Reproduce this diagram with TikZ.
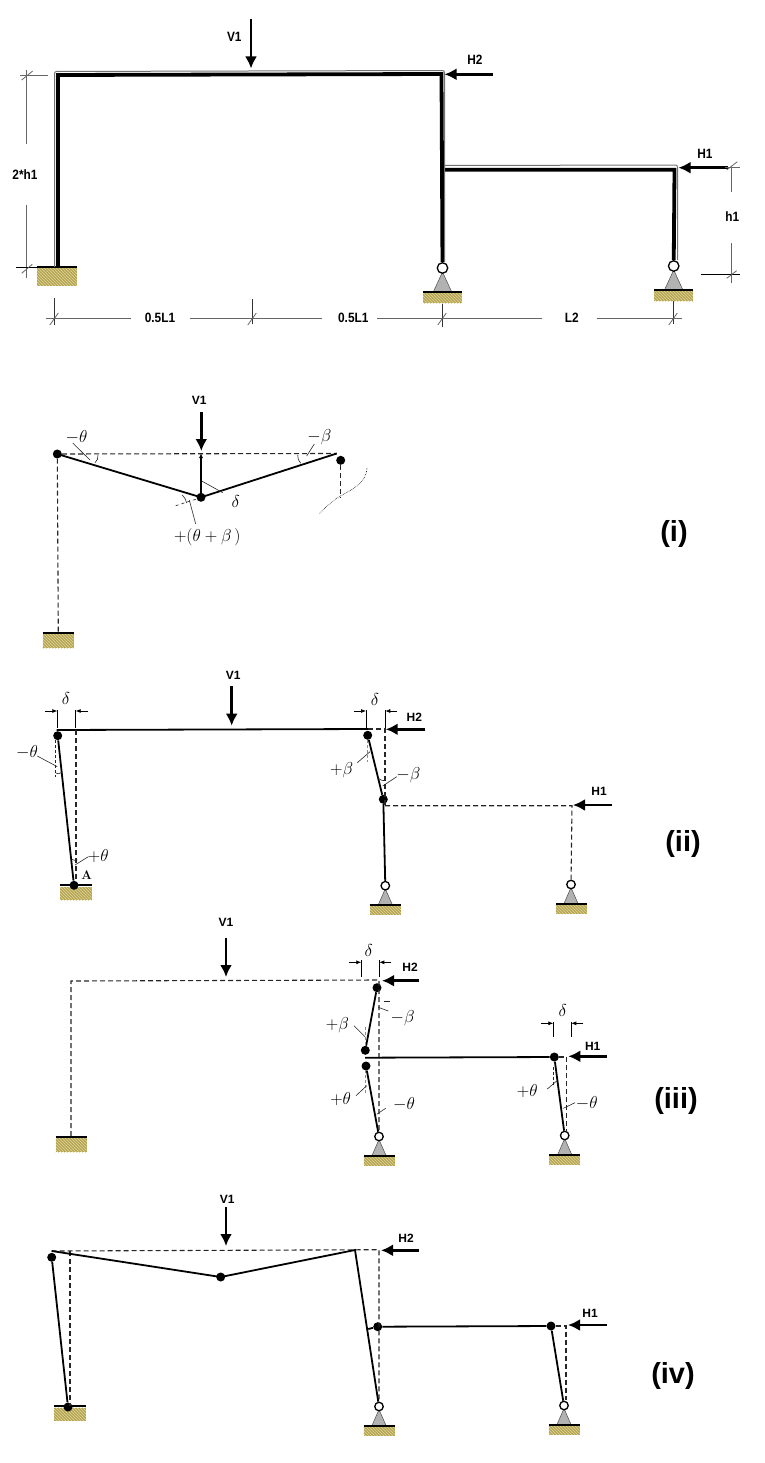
\documentclass[tikz,border=0pt]{standalone}
\usepackage{amsmath}
\usepackage{fontspec}
\setsansfont{Liberation Sans}
\usetikzlibrary{arrows.meta,patterns}
\definecolor{soil}{HTML}{B5A652}
\definecolor{soillight}{HTML}{E2D6A0}
\begin{document}
\begin{tikzpicture}[x=1pt,y=-1pt]
    \tikzset{
    member/.style={line width=1.8,black},
    framebar/.style={line width=3.8,black},
    edgeline/.style={line width=1,black!55,rounded corners=2pt},
    ghost/.style={dash pattern=on 5pt off 3pt,line width=1.1,black!85},
    thin leader/.style={line width=0.6,black!85},
    dimline/.style={line width=0.8,black!60},
    force/.style={line width=2.8,-{Latex[length=12pt,width=12pt]}},
    tickarrow/.style={line width=0.7,-{Latex[length=5pt,width=4pt]}},
    dot/.style={circle,fill=black,inner sep=0,minimum size=9pt},
    hinge/.style={circle,draw=black,fill=white,line width=1.3,inner sep=0,minimum size=8.5pt},
    load/.style={font=\sffamily\bfseries\fontsize{12}{13}\selectfont,inner sep=0},
    topload/.style={font=\sffamily\bfseries\fontsize{13.5}{14}\selectfont,inner sep=0,xscale=.88,transform shape},
    greek/.style={font=\fontsize{16}{17}\selectfont,inner sep=0,text=black},
    case/.style={font=\sffamily\bfseries\fontsize{29}{30}\selectfont,inner sep=0},
    hatch/.style={preaction={fill=soil},pattern=north west lines,pattern color=soillight},
    fixedbase/.pic={
        \path[hatch] (-15.5,1) rectangle (15.5,15);
        \draw[line width=1.8] (-15.5,0) -- (15.5,0);
    },
    pinbase/.pic={
        \filldraw[fill=black!30,draw=black!70,line width=0.5] (0,3) -- (7,19) -- (-7,19) -- cycle;
        \path[hatch] (-15.5,20) rectangle (15.5,29);
        \draw[line width=1.8] (-15.5,19.5) -- (15.5,19.5);
        \node[hinge] (pin) at (0,0) {};
    },
    bigpin/.pic={
        \filldraw[fill=black!30,draw=black!70,line width=0.5] (0,4) -- (9,23.5) -- (-9,23.5) -- cycle;
        \path[hatch] (-19.5,24.5) rectangle (19.5,35);
        \draw[line width=2.2] (-19.5,24) -- (19.5,24);
        \node[hinge,minimum size=10.5pt] (pin) at (0,0) {};
    },
    }

    % given frame
    \coordinate (a1) at (58,267);
    \coordinate (a2) at (58,75);
    \coordinate (a3) at (441.5,74);
    \coordinate (a4) at (441.5,169.7);
    \coordinate (a5) at (674.5,169.7);
    \path[hatch] (37,268) rectangle (77,285.7);
    \draw[line width=2.2] (37,267) -- (77,267);
    \pic (s1) at (442.5,268) {bigpin};
    \pic (s2) at (673.7,266) {bigpin};
    \draw[framebar] (a1) -- (a2) -- (a3) -- (s1pin);
    \draw[framebar] (a4) -- (a5) -- (s2pin);
    \draw[edgeline] (54.5,267) -- (54.5,71.5) -- (444.5,70.5) -- (444.5,262);
    \draw[edgeline] (444,165.5) -- (677.5,165) -- (677.5,260);
    \draw[force] (251,19) -- (251,68.5);
    \draw[force] (492.7,74.3) -- (444.5,74.3);
    \draw[force] (728,167.7) -- (678.5,167.7);
    \node[topload] (v0) at (234.3,37) {V1};
    \node[topload] (h20) at (475,60) {H2};
    \node[topload] (h10) at (705,154) {H1};

    \node[topload] (d1) at (25,175) {2*h1};
    \node[topload] (d2) at (732.3,217) {h1};
    \node[topload] (d3) at (160,318.3) {0.5L1};
    \node[topload] (d4) at (353.3,318.3) {0.5L1};
    \node[topload] (d5) at (571.7,318) {L2};
    \draw[dimline] (26.7,70) -- (26.7,144.5) (26.7,205) -- (26.7,278.3);
    \draw[dimline] (20,75.7) -- (48,75.7);
    \draw[line width=0.8] (16,267.3) -- (37,267.3);
    \draw[dimline] (21.7,80) -- (32.7,71) (21.7,273.3) -- (32.3,264.3);
    \draw[dimline] (731.7,167.7) -- (731.7,191.7) (731.7,243.3) -- (731.7,283.3);
    \draw[dimline] (725,167.7) -- (740,167.7);
    \draw[line width=0.8] (701,274.3) -- (740,274.3);
    \draw[dimline] (726.7,170) -- (737.3,161.7) (726.7,278.3) -- (736.7,270.7);
    \draw[dimline] (46,318.3) -- (131,318.3) (190,318.3) -- (322,318.3) (377.3,318.3) -- (541.7,318.3) (596.7,318.3) -- (681.7,318.3);
    \foreach \dimx/\dimtop/\dimend in {54.3/298.3/325,252.3/299.3/324,442.3/303.7/326.7,673.3/301/324.3} {
        \draw[line width=0.8,black!80] (\dimx,\dimtop) -- (\dimx,\dimend);
        \draw[dimline] (\dimx-4.5,325) -- (\dimx+4,313);
    }

    % case i
    \pic (i6) at (58,633) {fixedbase};
    \node[dot] (i1) at (57.3,454) {};
    \node[dot] (i2) at (201,497.3) {};
    \node[dot] (i3) at (340.7,460.3) {};
    \coordinate (i4) at (336.7,453.5);
    \coordinate (i5) at (201,453);
    \draw[ghost] (i1) -- (i4);
    \draw[ghost] (i1) -- (58.3,633);
    \draw[ghost] (i3) -- (340.7,498);
    \draw[member] (i1.center) -- (i2.center) -- (i4);
    \draw[tickarrow,line width=1.2] (i2) -- (i5);
    \draw[force] (201.3,412) -- (201.3,451);
    \draw[densely dotted,line width=0.6] (367,468) .. controls (366,485) and (350,490) .. (337,498) .. controls (330,503) and (325,508) .. (319,514);
    \node[load] (v1) at (199.3,400.7) {V1};
    \node[greek] (t1) at (76.5,437) {$-\theta$};
    \node[greek] (t2) at (235.7,501.7) {$\delta$};
    \node[greek] (t3) at (319.3,437) {$-\beta$};
    \node[greek] (t4) at (207.3,537) {$+(\theta+\beta\,)$};
    \draw[thin leader] (72.7,443) -- (90,460);
    \draw[thin leader] (201.7,481) -- (222.7,492.7);
    \draw[thin leader] (314.3,444) -- (306.7,456);
    \draw[thin leader] (195.7,524) -- (189.3,500);
    \draw[thin leader,dashed] (175.7,505.7) -- (195.7,499.3);
    \draw[thin leader] (98,455) .. controls (98.5,458) and (97,461) .. (95,462.7);
    \draw[thin leader] (297.7,455) .. controls (297.5,458) and (298.5,461) .. (300.7,463.3);
    \draw[thin leader] (182.3,495) .. controls (184.5,497) and (186,500) .. (186.7,503);
    \node[case] (c1) at (674,534) {(i)};

    % case ii
    \path[hatch] (60,887) rectangle (91.7,900);
    \draw[line width=1.8] (60,885.3) -- (91.7,885.3);
    \pic (j10) at (385.3,885.7) {pinbase};
    \pic (j11) at (571,884.5) {pinbase};
    \node[dot] (j1) at (57.7,735.7) {};
    \node[dot] (j2) at (74,885.3) {};
    \node[dot] (j3) at (367.7,735.3) {};
    \node[dot] (j4) at (383.3,799.3) {};
    \coordinate (j5) at (56.7,730);
    \coordinate (j6) at (368.3,729);
    \coordinate (j7) at (385,729);
    \coordinate (j8) at (385,805.7);
    \coordinate (j9) at (572,805.7);
    \draw[member] (j1) -- (j2);
    \draw[member] (j5) -- (j6);
    \draw[member] (j3) -- (j4);
    \draw[member] (j4) -- (j10pin);
    \draw[ghost] (76,730) -- (76,880);
    \draw[ghost] (j6) -- (j7) -- (j8);
    \draw[ghost] (j8) -- (j9) -- (j11pin);
    \draw[force] (231.7,686) -- (231.7,725.7);
    \draw[force] (425.3,729.3) -- (385.7,729.3);
    \draw[force] (612,805) -- (573,805);
    \node[load] (v2) at (233.3,675) {V1};
    \node[load] (h22) at (414.3,717.3) {H2};
    \node[load] (h12) at (599,791) {H1};
    \node[font=\bfseries\fontsize{12.5}{13}\selectfont,inner sep=0] (pa) at (86.7,875) {A};
    \node[greek] (u1) at (66,698) {$\delta$};
    \node[greek] (u2) at (375,699.3) {$\delta$};
    \node[greek] (u3) at (27,752) {$-\theta$};
    \node[greek] (u4) at (98.3,855.7) {$+\theta$};
    \node[greek] (u5) at (341.7,770) {$+\beta$};
    \node[greek] (u6) at (408.3,775) {$-\beta$};
    \draw[line width=0.7] (57.3,710) -- (57.3,728) (75.7,710) -- (75.7,728);
    \draw[line width=0.7] (366,710) -- (366,728) (385.3,710) -- (385.3,728);
    \draw[tickarrow] (45,711) -- (57.3,711);
    \draw[tickarrow] (87.7,711) -- (75.7,711);
    \draw[tickarrow] (354.3,711) -- (366,711);
    \draw[tickarrow] (396.7,711) -- (385.3,711);
    \draw[thin leader] (37.3,756) -- (57.3,766.7);
    \draw[thin leader,densely dashed] (55.7,740) -- (55.7,776.7);
    \draw[thin leader] (88.3,856.7) -- (75,865);
    \draw[thin leader] (357.3,762.7) -- (370,751.7);
    \draw[thin leader,black!45,densely dashed] (367.7,740) -- (367.7,761.7);
    \draw[thin leader] (396.7,776.7) -- (382.7,786);
    \draw[thin leader] (55.7,773) .. controls (57,774) and (60,774) .. (61.7,772.5);
    \draw[thin leader] (71.7,859.3) .. controls (73,860.5) and (76,860.5) .. (77.3,860);
    \draw[thin leader] (378.3,778.3) .. controls (380,780) and (383,781) .. (385,780.7);
    \node[case] (c2) at (683,844) {(ii)};

    % case iii
    \pic (k9) at (71,1137) {fixedbase};
    \pic (k10) at (379,1136.5) {pinbase};
    \pic (k11) at (564.7,1135.5) {pinbase};
    \node[dot] (k1) at (377,987.7) {};
    \node[dot] (k2) at (365.3,1050.3) {};
    \node[dot] (k3) at (366,1066) {};
    \node[dot] (k4) at (554.3,1057) {};
    \coordinate (k5) at (71,981);
    \coordinate (k6) at (379,980);
    \coordinate (k7) at (365,1057.7);
    \coordinate (k8) at (566.7,1057);
    \draw[ghost] (71,1136) -- (k5) -- (k6) -- (k10pin);
    \draw[ghost] (k4) -- (k8) -- (566.7,1131);
    \draw[member] (k1) -- (k2);
    \draw[member] (k3) -- (k10pin);
    \draw[member] (k7) -- (k4);
    \draw[member] (k4) -- (k11pin);
    \draw[force] (226,938) -- (226,977);
    \draw[force] (419.3,980.7) -- (382,980.7);
    \draw[force] (606.7,1056.3) -- (568.3,1056.3);
    \node[load] (v3) at (226,922) {V1};
    \node[load] (h23) at (410,967.3) {H2};
    \node[load] (h13) at (592.7,1046.3) {H1};
    \node[greek] (w1) at (368.7,950.7) {$\delta$};
    \node[greek] (w2) at (562.7,1010.7) {$\delta$};
    \node[greek] (w3) at (402.7,1017.7) {$-\beta$};
    \node[greek] (w4) at (337.3,1025) {$+\beta$};
    \node[greek] (w5) at (340.7,1099.3) {$+\theta$};
    \node[greek] (w6) at (404,1104.3) {$-\theta$};
    \node[greek] (w7) at (527.3,1090.7) {$+\theta$};
    \node[greek] (w8) at (586.7,1103.3) {$-\theta$};
    \draw[line width=0.7] (361.3,960) -- (361.3,976.7) (379.3,960) -- (379.3,976.7);
    \draw[line width=0.7] (553.3,1021.7) -- (553.3,1037.3) (571.3,1021.7) -- (571.3,1037.3);
    \draw[tickarrow] (349.3,962.3) -- (361.3,962.3);
    \draw[tickarrow] (391.3,962.3) -- (379.3,962.3);
    \draw[tickarrow] (541.3,1023.3) -- (553.3,1023.3);
    \draw[tickarrow] (583.3,1023.3) -- (571.3,1023.3);
    \draw[thin leader] (383.5,1001.7) -- (390,1001.7);
    \draw[thin leader] (388.3,1011) -- (378.3,1007.3);
    \draw[thin leader] (354,1025.7) -- (365,1036.7);
    \draw[thin leader,black!45,densely dashed] (365.3,1026.7) -- (365.3,1046);
    \draw[thin leader,black!45,densely dashed] (365.3,1070) -- (365.3,1093);
    \draw[thin leader] (356,1095.7) -- (366.7,1085.7);
    \draw[thin leader] (385.7,1108.3) -- (376.7,1114.3);
    \draw[thin leader,densely dashed] (553.3,1066.7) -- (553.3,1086.7);
    \draw[thin leader] (547.3,1089) -- (556.7,1081);
    \draw[thin leader] (575,1102.7) -- (563.3,1108.3);
    \node[case] (c3) at (676,1101) {(iii)};

    % case iv
    \path[hatch] (54,1407.5) rectangle (86,1420.7);
    \draw[line width=1.8] (54,1406) -- (86,1406);
    \pic (m12) at (379,1406.5) {pinbase};
    \pic (m13) at (564,1405.5) {pinbase};
    \node[dot] (m1) at (51.7,1257.3) {};
    \node[dot] (m2) at (68,1407) {};
    \node[dot] (m3) at (220.7,1277) {};
    \node[dot] (m4) at (377.7,1326.7) {};
    \node[dot] (m5) at (551,1326) {};
    \coordinate (m6) at (51.7,1251);
    \coordinate (m7) at (355,1250);
    \coordinate (m8) at (379,1249.7);
    \coordinate (m9) at (368.3,1329);
    \coordinate (m10) at (566,1326);
    \coordinate (m11) at (70,1251);
    \draw[ghost] (m6) -- (m8) -- (m12pin);
    \draw[ghost] (m11) -- (70,1406);
    \draw[ghost] (m5) -- (m10) -- (566,1400);
    \draw[member] (m1) -- (m2);
    \draw[member] (m6) -- (m3.center) -- (m7) -- (m12pin);
    \draw[member] (m9) -- (m4) -- (m5) -- (m13pin);
    \draw[force] (226,1207.3) -- (226,1246);
    \draw[force] (419.3,1250.3) -- (381,1250.3);
    \draw[force] (607,1325) -- (568,1325);
    \node[load] (v4) at (227.3,1199.3) {V1};
    \node[load] (h24) at (406,1238.3) {H2};
    \node[load] (h14) at (590,1313) {H1};
    \node[case] (c4) at (673,1376) {(iv)};

    \useasboundingbox (0,0) rectangle (764,1463);
\end{tikzpicture}
\end{document}
